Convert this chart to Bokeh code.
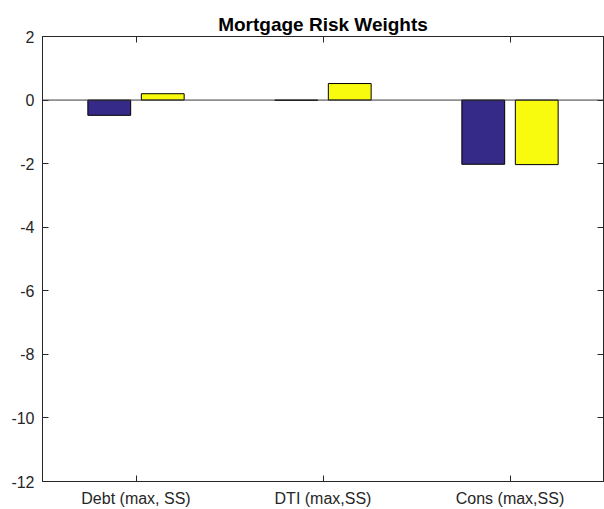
from bokeh.plotting import figure
from bokeh.models import LinearAxis, FixedTicker, Span, Range1d, ColumnDataSource
from bokeh.transform import dodge
from bokeh.embed import file_html
from bokeh.resources import INLINE

# ---- data ----
categories = ["Debt (max, SS)", "DTI (max,SS)", "Cons (max,SS)"]
positions = [1, 2, 3]
series_blue = [-0.48, -0.01, -2.02]
series_yellow = [0.20, 0.52, -2.03]
y_ticks = [2, 0, -2, -4, -6, -8, -10, -12]
y_tick_labels = ["2", "0", "-2", "-4", "-6", "-8", "-10", "-12"]

BLUE = "#352A87"
YELLOW = "#F9FB0E"
AX = "#262626"
FONT = "Liberation Sans"

src = ColumnDataSource(dict(x=positions, blue=series_blue, yellow=series_yellow))

p = figure(width=604, height=509, output_backend="svg", toolbar_location=None,
           x_range=Range1d(0.5, 3.5), y_range=Range1d(-12, 2),
           min_border_left=42, min_border_right=1, min_border_top=36, min_border_bottom=28)

p.title.text = "Mortgage Risk Weights"
p.title.align = "center"
p.title.text_font = FONT
p.title.text_font_size = "19px"
p.title.text_font_style = "bold"
p.title.text_color = "#000000"
p.title.standoff = 4

p.vbar(x=dodge("x", -0.143, range=p.x_range), top="blue", bottom=0, width=0.229,
       source=src, fill_color=BLUE, line_color="#000000", line_width=1)
p.vbar(x=dodge("x", 0.143, range=p.x_range), top="yellow", bottom=0, width=0.229,
       source=src, fill_color=YELLOW, line_color="#000000", line_width=1)

p.add_layout(Span(location=0, dimension="width", line_color="#3a3a3a", line_width=1))

p.xgrid.visible = False
p.ygrid.visible = False
p.outline_line_color = AX
p.outline_line_width = 1
p.background_fill_color = "white"
p.border_fill_color = "white"

xax = p.xaxis[0]
xax.ticker = FixedTicker(ticks=positions)
xax.major_label_overrides = {pos: lab for pos, lab in zip(positions, categories)}
yax = p.yaxis[0]
yax.ticker = FixedTicker(ticks=y_ticks)
yax.major_label_overrides = {t: lab for t, lab in zip(y_ticks, y_tick_labels)}

for ax in (xax, yax):
    ax.major_tick_in = 6
    ax.major_tick_out = 0
    ax.minor_tick_line_color = None
    ax.axis_line_color = AX
    ax.major_tick_line_color = AX
    ax.major_label_text_font = FONT
    ax.major_label_text_font_size = "16px"
    ax.major_label_text_color = AX
xax.major_label_standoff = 8
yax.major_label_standoff = 8

top_ax = LinearAxis(ticker=FixedTicker(ticks=positions), major_label_text_font_size="0px",
                    major_tick_in=6, major_tick_out=0, minor_tick_line_color=None,
                    axis_line_color=AX, major_tick_line_color=AX, major_label_standoff=0)
top_ax.major_label_overrides = {pos: "" for pos in positions}
right_ax = LinearAxis(ticker=FixedTicker(ticks=y_ticks), major_label_text_font_size="0px",
                      major_tick_in=6, major_tick_out=0, minor_tick_line_color=None,
                      axis_line_color=AX, major_tick_line_color=AX, major_label_standoff=0)
right_ax.major_label_overrides = {t: "" for t in y_ticks}
p.add_layout(top_ax, "above")
p.add_layout(right_ax, "right")

open("out.html", "w").write(file_html(p, INLINE))
